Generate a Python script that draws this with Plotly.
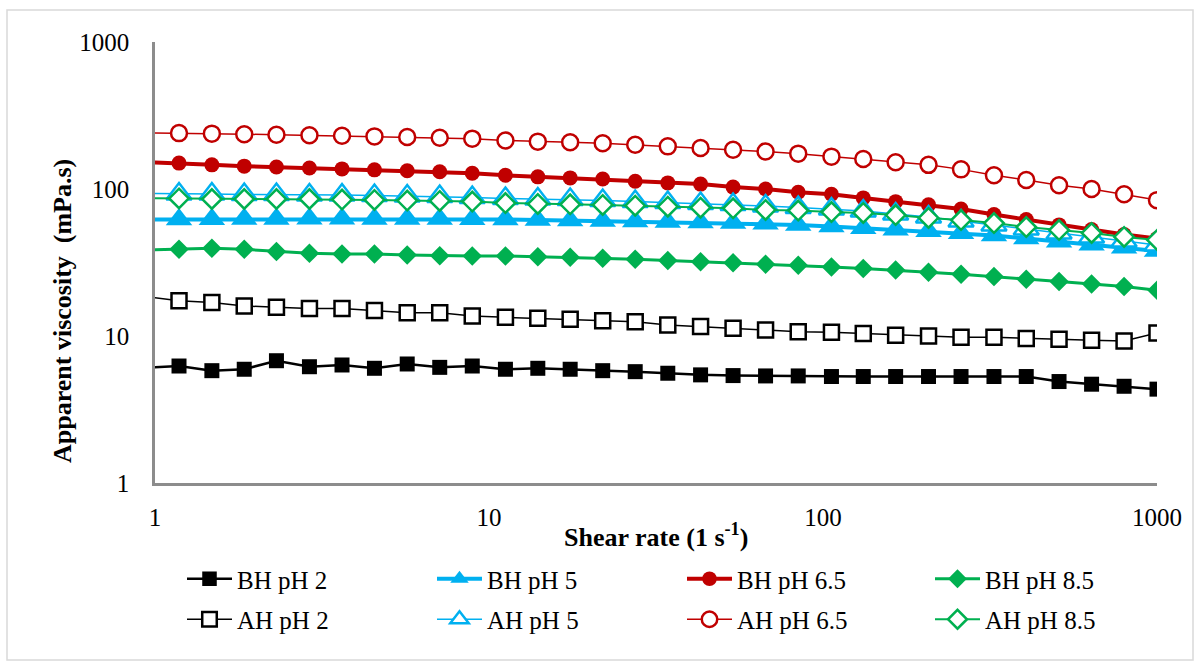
import plotly.graph_objects as go

# Shear rate (1/s); first value lies just left of the axis (line enters from the edge)
shear_rate = [0.94, 1.18, 1.48, 1.85, 2.31, 2.90, 3.63, 4.54, 5.69, 7.12, 8.91,
              11.2, 14.0, 17.5, 21.9, 27.4, 34.3, 43.0, 53.8, 67.3, 84.3,
              106, 132, 165, 207, 259, 325, 406, 509, 637, 797, 1000]

bh_ph2 = [6.1, 6.25, 5.81, 5.94, 6.79, 6.18, 6.35, 6.03, 6.45, 6.12, 6.25, 5.94, 6.03, 5.94, 5.81, 5.72,
          5.58, 5.44, 5.38, 5.35, 5.35, 5.30, 5.30, 5.30, 5.30, 5.30, 5.30, 5.30, 4.9, 4.7, 4.55, 4.35]
bh_ph5 = [62.0, 62.0, 62.2, 62.5, 62.5, 62.7, 62.7, 62.5, 62.5, 62.5, 62.3, 62.0, 61.5, 61.0, 60.5, 60.1,
          59.6, 59.1, 58.6, 58.0, 57.0, 55.5, 54.0, 52.8, 51.6, 50.0, 48.2, 46.0, 43.8, 41.7, 39.8, 37.8]
bh_ph65 = [152, 150, 146, 143, 141, 139, 137, 135, 133, 131, 128, 124, 121, 119, 117, 113,
           110, 108, 103, 100, 95, 92, 87, 82, 78, 73, 67, 62, 57, 53, 49, 46]
bh_ph85 = [38.5, 38.9, 39.5, 38.9, 37.5, 36.5, 36.1, 36.1, 35.6, 35.2, 35.0, 35.0, 34.6, 34.3, 33.8, 33.3,
           32.6, 32.0, 31.5, 30.8, 30.3, 29.5, 28.8, 28.1, 27.1, 26.3, 25.4, 24.3, 23.5, 22.6, 21.7, 20.5]
ah_ph2 = [18.5, 17.4, 16.9, 16.0, 15.7, 15.4, 15.4, 14.9, 14.4, 14.4, 13.7, 13.4, 13.2, 13.0, 12.7, 12.5,
          11.9, 11.6, 11.3, 11.0, 10.7, 10.6, 10.4, 10.1, 10.0, 9.8, 9.8, 9.6, 9.5, 9.35, 9.25, 10.5]
ah_ph5 = [93.5, 92.5, 92.5, 91.8, 91.8, 91.0, 91.0, 90.3, 89.6, 88.9, 87.5, 86.2, 85.5, 84.8, 83.5, 82.2,
          80.9, 79.7, 78.5, 76.6, 74.8, 73.1, 70.8, 67.6, 64.5, 60.6, 56.9, 53.5, 50.2, 47.2, 44.3, 41.6]
ah_ph65 = [241, 240, 238, 236, 234, 232, 230, 228, 226, 223, 220, 214, 210, 208, 205, 200,
           195, 190, 185, 180, 174, 166, 160, 152, 146, 136, 124, 115, 106, 100, 92, 84]
ah_ph85 = [86.5, 86.2, 85.5, 85.5, 85.5, 85.5, 84.8, 84.2, 83.5, 83.0, 82.2, 80.3, 79.1, 78.7, 77.9, 77.0,
           75.8, 74.6, 73.9, 72.0, 71.4, 69.7, 68.7, 66.5, 63.5, 61.5, 58.7, 55.1, 52.6, 50.2, 47.2, 45.0]

y_ticks = [1, 10, 100, 1000]
y_tick_labels = ["1", "10", "100", "1000"]
x_ticks = [1, 10, 100, 1000]
x_tick_labels = ["1", "10", "100", "1000"]

RED = "#C00000"
CYAN = "#00B0F0"
GREEN = "#00B050"
BLACK = "#000000"
FONT = "Times New Roman, Liberation Serif, serif"

series = [
    # name, data, color, symbol, size, filled, line width, legend
    ("BH pH 2", bh_ph2, BLACK, "square", 15, True, 2.5, "legend"),
    ("BH pH 5", bh_ph5, CYAN, "triangle-up", 23, True, 4, "legend2"),
    ("BH pH 6.5", bh_ph65, RED, "circle", 15, True, 4, "legend3"),
    ("BH pH 8.5", bh_ph85, GREEN, "diamond", 15, True, 3, "legend4"),
    ("AH pH 2", ah_ph2, BLACK, "square", 15, False, 1.5, "legend"),
    ("AH pH 5", ah_ph5, CYAN, "triangle-up", 22, False, 1.5, "legend2"),
    ("AH pH 6.5", ah_ph65, RED, "circle", 16, False, 1.5, "legend3"),
    ("AH pH 8.5", ah_ph85, GREEN, "diamond", 15, False, 2, "legend4"),
]

fig = go.Figure()
for i, (name, data, color, symbol, size, filled, lw, leg) in enumerate(series):
    sizes = [0] + [size] * (len(shear_rate) - 1)
    fig.add_trace(go.Scatter(
        x=shear_rate, y=data, name=name, mode="lines+markers",
        line=dict(color=color, width=lw),
        marker=dict(symbol=symbol, size=sizes, opacity=1,
                    color=color if filled else "white",
                    line=dict(color=color, width=0 if filled else 2.5)),
        legend=leg, legendgroup=name,
    ))

legend_common = dict(orientation="v", font=dict(family=FONT, size=25, color="black"),
                     bgcolor="rgba(0,0,0,0)", traceorder="grouped", tracegroupgap=5,
                     xanchor="left", yanchor="top", itemwidth=45)
col_x = [(182 - 155) / 1002, (432 - 155) / 1002, (682 - 155) / 1002, (930 - 155) / 1002]
leg_y = (483 - 556) / 441

fig.update_layout(
    width=1200, height=663,
    margin=dict(l=155, r=43, t=42, b=180),
    paper_bgcolor="white", plot_bgcolor="white",
    font=dict(family=FONT, size=25, color="black"),
    showlegend=True,
    legend=dict(x=col_x[0], y=leg_y, **legend_common),
    legend2=dict(x=col_x[1], y=leg_y, **legend_common),
    legend3=dict(x=col_x[2], y=leg_y, **legend_common),
    legend4=dict(x=col_x[3], y=leg_y, **legend_common),
    xaxis=dict(type="log", range=[0, 3], tickvals=x_ticks, ticktext=x_tick_labels,
               showgrid=False, zeroline=False, showline=True, linecolor="#8C8C8C", linewidth=2.5,
               ticks="", ticklabelstandoff=10, tickfont=dict(family=FONT, size=25)),
    yaxis=dict(type="log", range=[0, 3], tickvals=y_ticks, ticktext=y_tick_labels,
               showgrid=False, zeroline=False, showline=True, linecolor="#8C8C8C", linewidth=2.5,
               ticks="", ticklabelstandoff=18, tickfont=dict(family=FONT, size=25)),
    annotations=[
        dict(text="<b>Shear rate (1 s<sup>-1</sup>)</b>", xref="paper", yref="paper",
             x=0.5, y=(483 - 535) / 441, xanchor="center", yanchor="middle", showarrow=False,
             font=dict(family=FONT, size=26, color="black")),
        dict(text="<b>Apparent viscosity  (mPa.s)</b>", xref="paper", yref="paper",
             x=(62 - 155) / 1002, y=(483 - 311) / 441, xanchor="center", yanchor="middle",
             textangle=-90, showarrow=False, font=dict(family=FONT, size=26, color="black")),
    ],
    shapes=[dict(type="rect", xref="paper", yref="paper",
                 x0=(7 - 155) / 1002, x1=(1193 - 155) / 1002,
                 y0=(483 - 660) / 441, y1=(483 - 10) / 441,
                 line=dict(color="#D9D9D9", width=1.5), fillcolor="rgba(0,0,0,0)", layer="below")],
)

fig.write_html("out.html")
